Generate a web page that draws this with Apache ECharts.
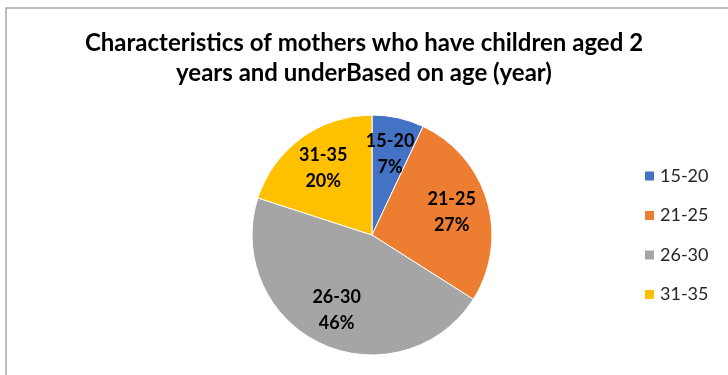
<!DOCTYPE html>
<html><head><meta charset="utf-8">
<script src="https://cdn.jsdelivr.net/npm/echarts@6/dist/echarts.min.js"></script>
<style>html,body{margin:0;padding:0;background:#fff}#c{width:728px;height:375px}</style>
</head><body><div id="c"></div>
<script>
const categories = ['15-20', '21-25', '26-30', '31-35'];
const values = [7, 27, 46, 20];
const colors = ['#4472C4', '#ED7D31', '#A5A5A5', '#FFC000'];
const titleText = 'Characteristics of mothers who have children aged 2\nyears and underBased on age (year)';

const chart = echarts.init(document.getElementById('c'), null, {renderer: 'canvas'});
const FONT = 'Lato, "Open Sans", sans-serif';
const pieData = categories.map((c, i) => ({name: c, value: values[i], itemStyle: {color: colors[i]}}));
chart.setOption({
  animation: false,
  color: colors,
  graphic: [{
    type: 'rect', shape: {x: 6, y: 8, width: 740, height: 400}, silent: true,
    style: {fill: 'none', stroke: '#a6a6a6', lineWidth: 1.5}
  }],
  title: {
    text: titleText, left: 'center', top: 23,
    textStyle: {fontFamily: FONT, fontSize: 24, fontWeight: 'bold', color: '#000', lineHeight: 30}
  },
  legend: {
    orient: 'vertical', left: 638, top: 162, itemWidth: 11, itemHeight: 11, itemGap: 21.5,
    icon: 'rect',
    data: categories.map((c, i) => ({name: c, itemStyle: {color: colors[i]}})),
    textStyle: {fontFamily: FONT, fontSize: 18, color: '#262626'}
  },
  series: [{
    type: 'pie', center: [372, 235], radius: [0, 120], startAngle: 90, clockwise: true,
    label: {show: false}, labelLine: {show: false},
    itemStyle: {borderColor: '#fff', borderWidth: 1},
    emphasis: {disabled: true},
    data: pieData
  }, {
    type: 'pie', center: [372, 235], radius: [40, 120], startAngle: 90, clockwise: true,
    silent: true, legendHoverLink: false,
    itemStyle: {color: 'rgba(0,0,0,0)', borderWidth: 0},
    label: {
      show: true, position: 'inside', formatter: '{b}\n{d}%',
      fontFamily: FONT, fontSize: 18, fontWeight: 'bold', color: '#000', lineHeight: 26
    },
    labelLine: {show: false},
    data: categories.map((c, i) => ({name: c, value: values[i], itemStyle: {color: 'rgba(0,0,0,0)'}}))
  }]
});
</script></body></html>
